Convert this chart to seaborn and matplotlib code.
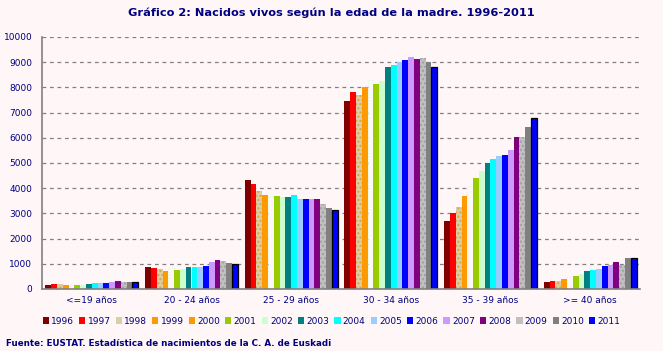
import numpy as np
import pandas as pd
import matplotlib
matplotlib.use("Agg")
import matplotlib.pyplot as plt
import seaborn as sns

# --- datos ---
GRUPOS = ['<=19 años', '20 - 24 años', '25 - 29 años', '30 - 34 años', '35 - 39 años', '>= 40 años']
ANIOS = [str(a) for a in range(1996, 2012)]

# nacidos por grupo de edad (filas) y año (columnas)
v_19 = [170, 210, 190, 160, 170, 160, 170, 200, 230, 220, 230, 260, 320, 270, 270, 260]
v_20_24 = [880, 840, 800, 720, 880, 760, 810, 880, 880, 880, 920, 1080, 1160, 1120, 1040, 990]
v_25_29 = [4320, 4160, 3880, 3720, 3680, 3680, 3650, 3640, 3720, 3560, 3560, 3560, 3560, 3360, 3200, 3150]
v_30_34 = [7470, 7830, 7710, 8010, 8280, 8150, 8240, 8820, 8900, 8990, 9100, 9220, 9140, 9180, 8990, 8810]
v_35_39 = [2700, 3020, 3260, 3700, 4070, 4410, 4690, 4990, 5170, 5280, 5320, 5520, 6040, 6040, 6440, 6800]
v_40 = [270, 310, 310, 390, 480, 500, 580, 700, 740, 780, 900, 970, 1090, 970, 1250, 1250]

COLORES = ['#800000', '#FF0000', '#D8CFA8', '#FF9900', '#FF9900', '#99CC00', '#CCFFCC', '#008080',
           '#00FFFF', '#99CCFF', '#0000FF', '#CC99FF', '#800080', '#C0C0C0', '#808080', '#0000FF']

FONDO = '#FFF7F7'
AZUL = '#000080'

valores = [v_19, v_20_24, v_25_29, v_30_34, v_35_39, v_40]
filas = []
for g, vals in zip(GRUPOS, valores):
    for a, v in zip(ANIOS, vals):
        filas.append({'grupo': g, 'anio': a, 'nacidos': v})
df = pd.DataFrame(filas)

sns.set_style("white")
plt.rcParams['font.family'] = ['DejaVu Sans']

fig = plt.figure(figsize=(6.63, 3.51), dpi=100, facecolor=FONDO)
ax = fig.add_axes([42 / 663, 1 - 289 / 351, 598 / 663, 252 / 351])
ax.set_facecolor(FONDO)

sns.barplot(data=df, x='grupo', y='nacidos', hue='anio', palette=COLORES,
            width=0.93, gap=0, saturation=1, ax=ax, linewidth=0, edgecolor='none')

# retoques por serie
for anio, cont in zip(ANIOS, ax.containers):
    for p in cont.patches:
        if anio in ('1998', '2009'):
            p.set_hatch('....')
            p.set_edgecolor('#A0A0A0' if anio == '2009' else '#E0A040')
            p.set_linewidth(0)
        elif anio == '2000':
            p.set_facecolor(FONDO)
            p.set_edgecolor('#CCFFCC')
            p.set_linestyle(':')
            p.set_linewidth(0.8)
        elif anio == '2011':
            p.set_edgecolor('black')
            p.set_linewidth(0.9)
plt.rcParams['hatch.linewidth'] = 1.0

ax.set_ylim(0, 10000)
ax.set_xlim(-0.5, 5.5)
ax.set_yticks(np.arange(0, 10001, 1000))
ax.yaxis.grid(True, linestyle=(0, (3, 3)), color='#808080', linewidth=0.9)
ax.set_axisbelow(True)
ax.set_xlabel('')
ax.set_ylabel('')

for s in ['top', 'right']:
    ax.spines[s].set_visible(False)
for s in ['left', 'bottom']:
    ax.spines[s].set_color('#808080')
    ax.spines[s].set_linewidth(1.2)

ax.tick_params(axis='x', length=0, labelsize=6.5, labelcolor=AZUL, pad=5)
ax.tick_params(axis='y', length=4, color='#808080', labelsize=6.5, labelcolor=AZUL, pad=3)
ax.set_xticks(np.arange(6), GRUPOS)
ax.set_xticks(np.arange(-0.5, 6, 1), minor=True)
ax.tick_params(axis='x', which='minor', length=4, color='#808080', width=1.2)

handles, labels = ax.get_legend_handles_labels()
ax.get_legend().remove()
fig.legend(handles, labels, loc='center', bbox_to_anchor=(0.5, 1 - 321 / 351), ncol=16,
           frameon=False, fontsize=6.5, handlelength=0.7, handleheight=0.7,
           handletextpad=0.25, columnspacing=0.55, labelcolor=AZUL)

fig.text(0.5, 1 - 13 / 351, 'Gráfico 2: Nacidos vivos según la edad de la madre. 1996-2011',
         ha='center', va='center', fontsize=8.2, fontweight='bold', color=AZUL)
fig.text(6 / 663, 1 - 343 / 351, 'Fuente: EUSTAT. Estadística de nacimientos de la C. A. de Euskadi',
         ha='left', va='center', fontsize=6.3, fontweight='bold', color=AZUL)

fig.savefig('out.png', dpi=100, facecolor=FONDO)
